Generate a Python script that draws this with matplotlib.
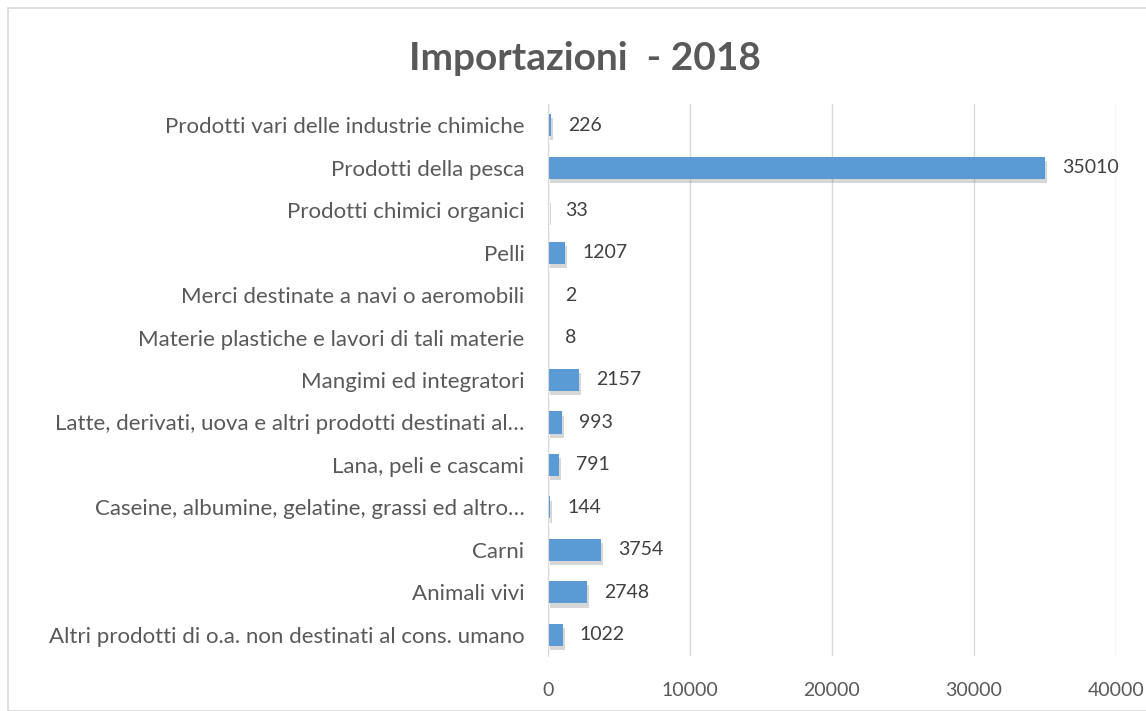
import numpy as np
import matplotlib.pyplot as plt
import matplotlib.patheffects as pe
from matplotlib.patches import Rectangle

# dati (dal basso verso l'alto)
categorie = [
    "Altri prodotti di o.a. non destinati al cons. umano",
    "Animali vivi",
    "Carni",
    "Caseine, albumine, gelatine, grassi ed altro…",
    "Lana, peli e cascami",
    "Latte, derivati, uova e altri prodotti destinati al…",
    "Mangimi ed integratori",
    "Materie plastiche e lavori di tali materie",
    "Merci destinate a navi o aeromobili",
    "Pelli",
    "Prodotti chimici organici",
    "Prodotti della pesca",
    "Prodotti vari delle industrie chimiche",
]
valori = [1022, 2748, 3754, 144, 791, 993, 2157, 8, 2, 1207, 33, 35010, 226]
tick_x = [0, 10000, 20000, 30000, 40000]

plt.rcParams['font.family'] = ['Lato', 'DejaVu Sans']

W, H = 1146, 711
fig = plt.figure(figsize=(W / 100, H / 100), dpi=100)

# bordo del grafico
fig.patches.append(Rectangle((8 / W, 0), 1.2, (H - 8) / H, transform=fig.transFigure,
                             fill=False, edgecolor='#d9d9d9', linewidth=1.2))

ax = fig.add_axes([548 / W, 1 - 656 / H, (1116 - 548) / W, (656 - 104) / H])

y = np.arange(len(categorie))
bars = ax.barh(y, valori, height=0.52, color='#5b9bd5', linewidth=0, zorder=3)
for b in bars:
    b.set_path_effects([pe.SimplePatchShadow(offset=(1.5, -3), shadow_rgbFace='#606060', alpha=0.25),
                        pe.Normal()])

for yi, v in zip(y, valori):
    ax.text(v + 1200, yi, str(v), va='center', ha='left', fontsize=14, color='#404040')

ax.set_xlim(0, 40000)
ax.set_ylim(-0.5, len(categorie) - 0.5)
ax.set_xticks(tick_x)
ax.set_xticklabels([str(t) for t in tick_x], fontsize=14, color='#595959')
ax.set_yticks(y)
ax.set_yticklabels(categorie, fontsize=16, color='#595959')
ax.tick_params(length=0, pad=19, axis='x')
ax.tick_params(length=0, pad=17, axis='y')
ax.grid(axis='x', color='#d9d9d9', linewidth=1, zorder=0)
for s in ['top', 'right', 'bottom']:
    ax.spines[s].set_visible(False)
ax.spines['left'].set_color('#d9d9d9')
ax.spines['left'].set_zorder(4)

fig.text(585 / W, 1 - 58 / H, "Importazioni  - 2018", ha='center', va='center',
         fontsize=28, fontweight='bold', color='#595959')

fig.savefig('out.png', dpi=100)
